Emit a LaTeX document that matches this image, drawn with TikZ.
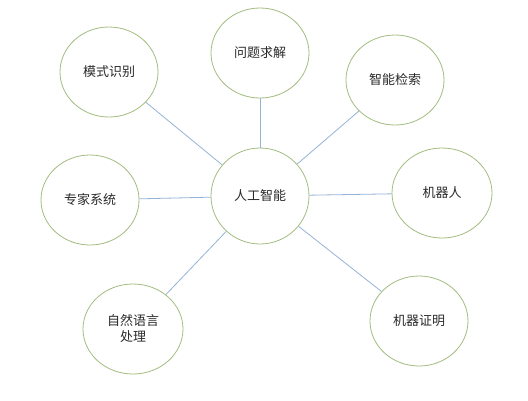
\documentclass[tikz,border=0pt]{standalone}
\usepackage{fontspec}
\newfontfamily\cjk{Noto Sans CJK SC}
\usetikzlibrary{shapes.geometric}
\definecolor{ringgreen}{HTML}{A3BC80}
\definecolor{linkblue}{HTML}{94B4D6}
\definecolor{txt}{HTML}{2A2A2A}
\begin{document}
\begin{tikzpicture}[x=1pt,y=-1pt,
  topic/.style={ellipse,draw=ringgreen,line width=0.8pt,fill=white,
    minimum width=98pt,minimum height=90pt,inner sep=0pt,
    font=\cjk\fontsize{13}{16}\selectfont,text=txt,align=center},
  link/.style={draw=linkblue,line width=0.8pt}]
\useasboundingbox (0,0) rectangle (528,400);
\fill[white] (0,0) rectangle (528,400);
\node[topic,minimum height=96pt] (ai) at (260,196) {人工智能};
\node[topic] (pat) at (109,72) {模式识别};
\node[topic] (prob) at (260,53) {问题求解};
\node[topic] (search) at (395,80) {智能检索};
\node[topic,minimum width=100pt] (robot) at (442,193) {机器人};
\node[topic] (expert) at (90,200) {专家系统};
\node[topic,minimum width=100pt] (nlp) at (133,329) {自然语言\\处理};
\node[topic] (proof) at (419,321) {机器证明};
\foreach \n in {pat,prob,search,robot,expert,nlp,proof}
  \draw[link] (ai) -- (\n);
\end{tikzpicture}
\end{document}
